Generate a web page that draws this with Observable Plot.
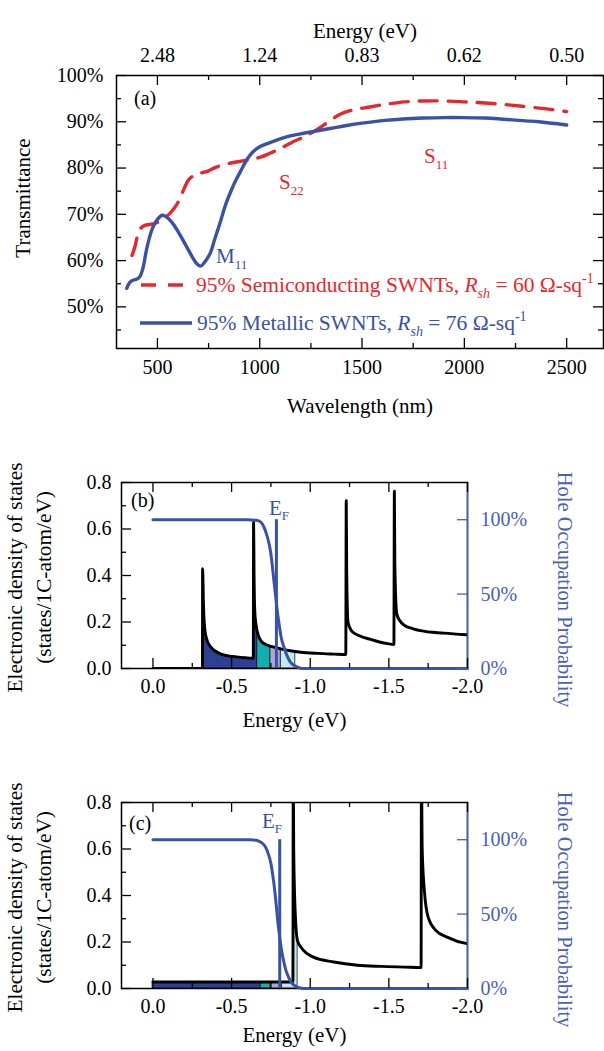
<!DOCTYPE html>
<html>
<head>
<meta charset="utf-8">
<script src="https://cdn.jsdelivr.net/npm/d3@7"></script>
<script src="https://cdn.jsdelivr.net/npm/@observablehq/plot@0.6"></script>
<style>
  body { margin: 0; background: white; }
  #root { position: relative; width: 604px; height: 1051px; overflow: hidden; background: white; font-family: "Liberation Serif", serif; }
  .panel { position: absolute; left: 0; }
  #overlay { position: absolute; left: 0; top: 0; pointer-events: none; }
</style>
</head>
<body>
<div id="root">
  <div id="pa" class="panel" style="top:0px"></div>
  <div id="pb" class="panel" style="top:425px"></div>
  <div id="pc" class="panel" style="top:760px"></div>
</div>
<script>
// ---------------- Panel (a) data ----------------
const wavelengthTicks = [500, 1000, 1500, 2000, 2500];
const wavelengthMinorTicks = [750, 1250, 1750, 2250];
const energyTopLabels = ["2.48", "1.24", "0.83", "0.62", "0.50"];
const transTicks = [50, 60, 70, 80, 90, 100];
const transMinorTicks = [45, 55, 65, 75, 85, 95];

const metallicWl = [350, 365, 383, 400, 415, 430, 445, 460, 476, 500, 523, 545, 570, 595, 620, 645, 673, 695, 711, 730, 758, 780, 805, 835, 861, 885, 910, 937, 965, 1000, 1050, 1100, 1144, 1200, 1275, 1350, 1425, 1500, 1613, 1700, 1800, 1900, 1987, 2100, 2177, 2300, 2363, 2500];
const metallicT  = [54.0, 55.3, 55.8, 56.0, 56.6, 58.5, 62.0, 64.8, 67.0, 68.9, 69.8, 69.4, 68.3, 66.7, 64.8, 62.8, 60.6, 59.2, 58.8, 59.6, 61.6, 64.6, 68.0, 72.3, 75.2, 77.5, 79.6, 81.8, 83.4, 84.6, 85.5, 86.3, 86.9, 87.4, 88.0, 88.6, 89.2, 89.7, 90.3, 90.6, 90.8, 90.9, 90.9, 90.8, 90.6, 90.2, 90.0, 89.3];

const semiWl = [376, 390, 401, 415, 439, 460, 486, 520, 561, 580, 598, 620, 655, 690, 711, 750, 787, 850, 937, 1000, 1050, 1100, 1163, 1220, 1275, 1330, 1388, 1450, 1538, 1620, 1707, 1800, 1895, 2000, 2083, 2180, 2271, 2400, 2500];
const semiT  = [61.1, 63.0, 65.1, 66.8, 67.6, 67.8, 68.0, 68.8, 70.2, 71.2, 72.4, 74.5, 77.6, 78.6, 78.9, 79.4, 80.2, 81.0, 81.7, 82.3, 83.2, 84.2, 85.7, 86.8, 88.2, 89.8, 91.5, 92.5, 93.2, 93.8, 94.3, 94.5, 94.5, 94.3, 94.1, 93.8, 93.4, 92.8, 92.2];

// ---------------- Panels (b), (c) shared ----------------
const dosTicks = [0, 0.2, 0.4, 0.6, 0.8];
const dosMinorTicks = [0.1, 0.3, 0.5, 0.7];
const energyTicks = [0, -0.5, -1.0, -1.5, -2.0];
const energyMinorTicks = [-0.25, -0.75, -1.25, -1.75];
const holeTicks = [0, 50, 100];
const holeTickLabels = ["0%", "50%", "100%"];
const holeFullOnDos = 0.64; // left-axis value where 100% sits

// ---------------- Panel (b) data ----------------
const dosE_b = [0, -0.315, -0.316, -0.321, -0.327, -0.34, -0.368, -0.43, -0.5, -0.56, -0.638, -0.640, -0.643, -0.648, -0.66, -0.686, -0.72, -0.77, -0.85, -0.94, -1.05, -1.15, -1.226, -1.229, -1.232, -1.24, -1.26, -1.29, -1.33, -1.38, -1.44, -1.5, -1.532, -1.535, -1.538, -1.55, -1.57, -1.6, -1.65, -1.7, -1.85, -2.0];
const dos_b  = [0, 0, 0.429, 0.28, 0.19, 0.13, 0.092, 0.063, 0.052, 0.048, 0.044, 0.629, 0.40, 0.24, 0.17, 0.12, 0.102, 0.092, 0.079, 0.070, 0.065, 0.062, 0.060, 0.722, 0.42, 0.20, 0.165, 0.148, 0.136, 0.126, 0.114, 0.106, 0.103, 0.763, 0.45, 0.236, 0.205, 0.185, 0.172, 0.163, 0.152, 0.145];
const fermiE_b = [0, -0.60, -0.665, -0.69, -0.706, -0.72, -0.738, -0.75, -0.76, -0.77, -0.781, -0.79, -0.802, -0.815, -0.834, -0.855, -0.876, -0.90, -0.919, -0.95, -2.0];
const fermiP_b = [100, 100, 99.5, 98, 95, 91, 84, 77, 68, 58, 48, 39, 30, 21, 14, 8, 4, 2, 1, 0, 0];
const fermiLevel_b = -0.785;
const fillBounds_b = [-0.316, -0.665, -0.749, -0.815, -0.905];

// ---------------- Panel (c) data ----------------
const dosE_c = [0, -0.3, -0.6, -0.89, -0.892, -0.895, -0.905, -0.919, -0.94, -0.98, -1.02, -1.15, -1.3, -1.45, -1.6, -1.705, -1.707, -1.712, -1.726, -1.75, -1.8, -1.87, -1.99, -2.0];
const dos_c  = [0.028, 0.028, 0.028, 0.028, 0.95, 0.60, 0.32, 0.206, 0.178, 0.15, 0.135, 0.114, 0.10, 0.095, 0.092, 0.09, 0.95, 0.60, 0.42, 0.306, 0.249, 0.221, 0.194, 0.193];
const fermiE_c = [0, -0.62, -0.663, -0.69, -0.716, -0.735, -0.75, -0.762, -0.772, -0.783, -0.793, -0.804, -0.814, -0.83, -0.846, -0.865, -0.888, -0.91, -0.93, -0.96, -2.0];
const fermiP_c = [100, 100, 99.5, 98, 95, 90, 84, 76, 68, 57, 46, 36, 28, 19, 12, 7, 3, 1.5, 0.5, 0, 0];
const fermiLevel_c = -0.806;
const fillBounds_c = [0, -0.687, -0.75, -0.823, -0.92];

// ---------------- styles ----------------
const RED = "#e6282c";
const BLUE = "#3a52a4";
const AXIS_BLUE = "#4a60b4";
const FILL_COLORS = ["#2e3f95", "#14adb0", "#aaa8d8", "#c4e9f1"];
const FONT = "Liberation Serif, Times New Roman, serif";

// helpers
function zip(xs, ys, kx, ky) { return xs.map((x, i) => ({[kx]: x, [ky]: ys[i]})); }
function interp(E, D, e) {
  for (let i = 0; i < E.length - 1; i++) {
    const a = E[i], b = E[i + 1];
    if ((e <= a && e >= b)) { const t = (a === b) ? 0 : (e - a) / (b - a); return D[i] + t * (D[i + 1] - D[i]); }
  }
  return D[D.length - 1];
}
function segment(E, D, from, to) {
  const pts = [{E: from, v: interp(E, D, from)}];
  E.forEach((e, i) => { if (e < from && e > to) pts.push({E: e, v: D[i]}); });
  pts.push({E: to, v: interp(E, D, to)});
  return pts;
}
function boxTicks(xMaj, xMin, yMaj, yMin, pw, ph, color) {
  const sw = 1.3;
  return [
    Plot.tickX(xMaj, {x: d => d, insetTop: ph - 10, stroke: color, strokeWidth: sw}),
    Plot.tickX(xMin, {x: d => d, insetTop: ph - 5, stroke: color, strokeWidth: sw}),
    Plot.tickX(xMaj, {x: d => d, insetBottom: ph - 10, stroke: color, strokeWidth: sw}),
    Plot.tickX(xMin, {x: d => d, insetBottom: ph - 5, stroke: color, strokeWidth: sw}),
    Plot.tickY(yMaj, {y: d => d, insetRight: pw - 10, stroke: color, strokeWidth: sw}),
    Plot.tickY(yMin, {y: d => d, insetRight: pw - 5, stroke: color, strokeWidth: sw})
  ];
}

// ---------------- Panel (a) ----------------
{
  const W = 604, H = 425, mL = 116, mR = 1, mT = 75, mB = 77;
  const pw = W - mL - mR, ph = H - mT - mB;
  const energyByWl = new Map(wavelengthTicks.map((w, i) => [w, energyTopLabels[i]]));
  const chart = Plot.plot({
    width: W, height: H, marginLeft: mL, marginRight: mR, marginTop: mT, marginBottom: mB,
    x: {domain: [300, 2680]},
    y: {domain: [41, 100]},
    style: {fontFamily: FONT, fontSize: "20px", background: "transparent", color: "black", overflow: "visible"},
    marks: [
      Plot.line(zip(semiWl, semiT, "wl", "t"), {x: "wl", y: "t", stroke: RED, strokeWidth: 3.4, strokeDasharray: "18,11", curve: "catmull-rom"}),
      Plot.line(zip(metallicWl, metallicT, "wl", "t"), {x: "wl", y: "t", stroke: BLUE, strokeWidth: 3.4, curve: "catmull-rom"}),
      Plot.frame({stroke: "black", strokeWidth: 1.5}),
      ...boxTicks(wavelengthTicks, wavelengthMinorTicks, transTicks, transMinorTicks, pw, ph, "black"),
      Plot.tickY(transTicks, {y: d => d, insetLeft: pw - 10, stroke: "black", strokeWidth: 1.3}),
      Plot.tickY(transMinorTicks, {y: d => d, insetLeft: pw - 5, stroke: "black", strokeWidth: 1.3}),
      Plot.axisX({ticks: wavelengthTicks, tickSize: 0, tickPadding: 11, tickFormat: d => String(d), label: null, fontSize: 20}),
      Plot.axisX({anchor: "top", ticks: wavelengthTicks, tickSize: 0, tickPadding: 14, tickFormat: d => energyByWl.get(d), label: null, fontSize: 20}),
      Plot.axisY({ticks: transTicks, tickSize: 0, tickPadding: 13, tickFormat: d => d + "%", label: null, fontSize: 20}),
      Plot.text(["Wavelength (nm)"], {text: d => d, frameAnchor: "bottom", textAnchor: "middle", dy: 64, dx: 0, fontSize: 21}),
      Plot.text(["Energy (eV)"], {text: d => d, frameAnchor: "top", textAnchor: "middle", dy: -52, dx: 5, fontSize: 21}),
      Plot.text(["Transmittance"], {text: d => d, frameAnchor: "left", textAnchor: "middle", dx: -93, dy: -14, rotate: -90, fontSize: 21})
    ]
  });
  document.getElementById("pa").appendChild(chart);
}

// ---------------- Panels (b), (c) ----------------
function dosPanel(el, H, mT, mB, dosE, dos, fermiE, fermiP, ef, bounds, xLabelDy) {
  const W = 604, mL = 121, mR = 137;
  const pw = W - mL - mR, ph = H - mT - mB;
  const toDos = p => p / 100 * holeFullOnDos;
  const holeLabelByVal = new Map(holeTicks.map((h, i) => [toDos(h), holeTickLabels[i]]));
  const fills = [];
  for (let i = 0; i < bounds.length - 1; i++) {
    fills.push(Plot.areaY(segment(dosE, dos, bounds[i], bounds[i + 1]), {x: "E", y: "v", fill: FILL_COLORS[i], stroke: "#1a1a1a", strokeWidth: 0.8, clip: true}));
  }
  const chart = Plot.plot({
    width: W, height: H, marginLeft: mL, marginRight: mR, marginTop: mT, marginBottom: mB,
    x: {domain: [0.2, -2.0]},
    y: {domain: [0, 0.8]},
    style: {fontFamily: FONT, fontSize: "20px", background: "transparent", color: "black", overflow: "visible"},
    marks: [
      ...fills,
      Plot.line(zip(dosE, dos, "E", "v"), {x: "E", y: "v", stroke: "black", strokeWidth: 2.9, clip: true, curve: "monotone-x"}),
      Plot.frame({stroke: "black", strokeWidth: 1.5}),
      Plot.ruleX([-2.0], {stroke: AXIS_BLUE, strokeWidth: 1.5}),
      Plot.line(fermiE.map((e, i) => ({E: e, v: toDos(fermiP[i])})), {x: "E", y: "v", stroke: BLUE, strokeWidth: 3, curve: "monotone-x"}),
      Plot.ruleX([ef], {y1: 0, y2: toDos(100), stroke: BLUE, strokeWidth: 3}),
      ...boxTicks(energyTicks, energyMinorTicks, dosTicks, dosMinorTicks, pw, ph, "black"),
      Plot.tickY(holeTicks.map(toDos), {y: d => d, insetLeft: pw - 10, stroke: AXIS_BLUE, strokeWidth: 1.3}),
      Plot.axisX({ticks: energyTicks, tickSize: 0, tickPadding: 10, tickFormat: d => d.toFixed(1), label: null, fontSize: 20}),
      Plot.axisY({ticks: dosTicks, tickSize: 0, tickPadding: 10, tickFormat: d => d.toFixed(1), label: null, fontSize: 20}),
      Plot.axisY({anchor: "right", ticks: holeTicks.map(toDos), tickSize: 0, tickPadding: 13, tickFormat: d => holeLabelByVal.get(d), label: null, fill: AXIS_BLUE, fontSize: 20}),
      Plot.text(["Energy (eV)"], {text: d => d, frameAnchor: "bottom", textAnchor: "middle", dy: xLabelDy, fontSize: 21}),
      Plot.text(["Electronic density of states\n(states/1C-atom/eV)"], {text: d => d, frameAnchor: "left", textAnchor: "middle", dx: -94.5, dy: 2, rotate: -90, lineHeight: 1.38, fontSize: 21.3}),
      Plot.text(["Hole Occupation Probability"], {text: d => d, frameAnchor: "right", textAnchor: "middle", dx: 97, dy: 14, rotate: 90, fill: AXIS_BLUE, fontSize: 20.5})
    ]
  });
  document.getElementById(el).appendChild(chart);
}
dosPanel("pb", 335, 57, 92, dosE_b, dos_b, fermiE_b, fermiP_b, fermiLevel_b, fillBounds_b, 58);
dosPanel("pc", 291, 42, 63, dosE_c, dos_c, fermiE_c, fermiP_c, fermiLevel_c, fillBounds_c, 53);

// ---------------- Annotation / legend overlay ----------------
const NS = "http://www.w3.org/2000/svg";
const ov = document.createElementNS(NS, "svg");
ov.setAttribute("id", "overlay");
ov.setAttribute("width", 604); ov.setAttribute("height", 1051);
ov.setAttribute("font-family", FONT);
function txt(parts, x, y, size, color) {
  const t = document.createElementNS(NS, "text");
  t.setAttribute("x", x); t.setAttribute("y", y);
  t.setAttribute("font-size", size); t.setAttribute("fill", color);
  parts.forEach(p => {
    const s = document.createElementNS(NS, "tspan");
    s.textContent = p.t;
    if (p.size) s.setAttribute("font-size", p.size);
    if (p.dy) s.setAttribute("dy", p.dy);
    if (p.italic) s.setAttribute("font-style", "italic");
    t.appendChild(s);
  });
  ov.appendChild(t);
}
function seg(x1, y1, x2, y2, color, w, dash) {
  const l = document.createElementNS(NS, "line");
  l.setAttribute("x1", x1); l.setAttribute("y1", y1); l.setAttribute("x2", x2); l.setAttribute("y2", y2);
  l.setAttribute("stroke", color); l.setAttribute("stroke-width", w);
  if (dash) l.setAttribute("stroke-dasharray", dash);
  ov.appendChild(l);
}
// panel labels
txt([{t: "(a)"}], 134, 105, 20, "black");
txt([{t: "(b)"}], 131, 507, 20, "black");
txt([{t: "(c)"}], 129, 830, 20, "black");
// band labels
txt([{t: "S"}, {t: "11", size: 13, dy: 6}], 424, 163, 21, RED);
txt([{t: "S"}, {t: "22", size: 13, dy: 6}], 279, 189, 21, RED);
txt([{t: "M"}, {t: "11", size: 13, dy: 6}], 216, 263, 21, BLUE);
// Fermi level labels
txt([{t: "E"}, {t: "F", size: 13, dy: 5}], 269, 515, 21, BLUE);
txt([{t: "E"}, {t: "F", size: 13, dy: 5}], 262, 828, 21, BLUE);
// legend
seg(141, 285, 193, 285, RED, 3.4, "15,12");
txt([{t: "95% Semiconducting SWNTs, "}, {t: "R", italic: true}, {t: "sh", italic: true, size: 14, dy: 6}, {t: " = 60 Ω-sq", dy: -6}, {t: "-1", size: 14, dy: -9}], 196, 292, 21.5, RED);
seg(140, 323, 192, 323, BLUE, 3.4);
txt([{t: "95% Metallic SWNTs, "}, {t: "R", italic: true}, {t: "sh", italic: true, size: 14, dy: 6}, {t: " = 76 Ω-sq", dy: -6}, {t: "-1", size: 14, dy: -9}], 197, 330, 21.5, BLUE);
document.getElementById("root").appendChild(ov);
</script>
</body>
</html>
